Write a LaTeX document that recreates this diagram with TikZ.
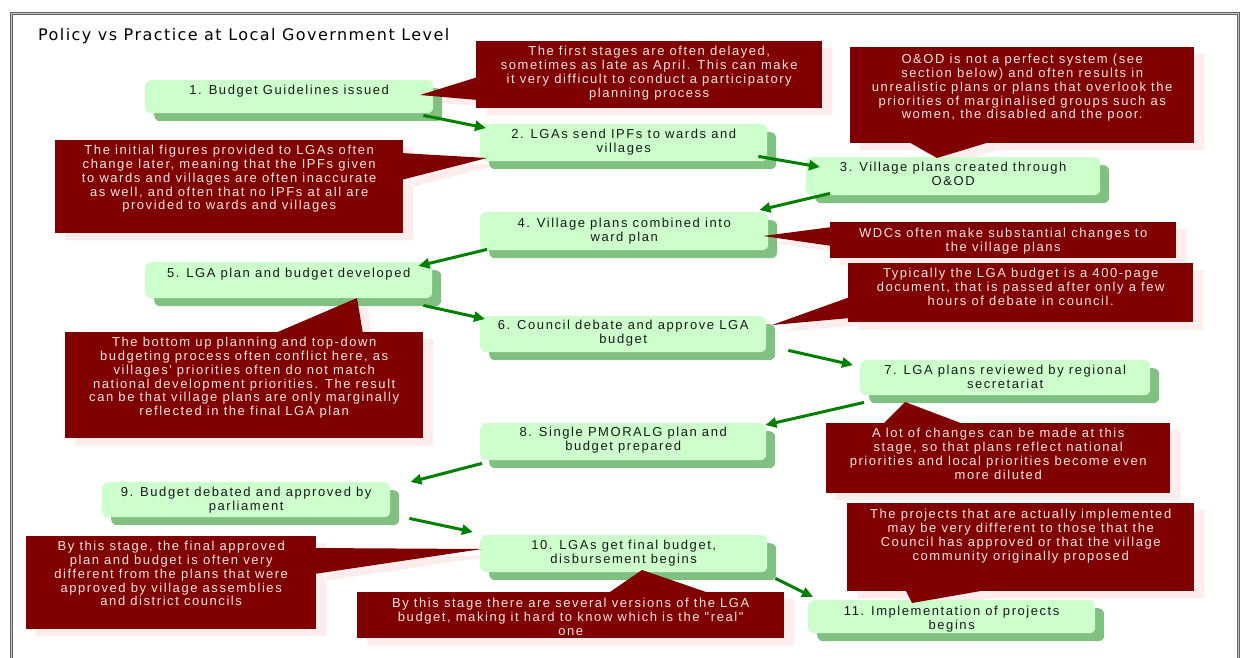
\documentclass[tikz,border=0pt]{standalone}
\usepackage{fontspec}
\setmainfont{Liberation Sans}
\newfontfamily\labelfont[LetterSpace=12]{Liberation Sans}
\newfontfamily\titlefont[LetterSpace=9]{DejaVu Sans}
\usetikzlibrary{arrows.meta,shadows,calc}
\definecolor{boxfill}{HTML}{CCFFCC}
\definecolor{boxshade}{HTML}{80C080}
\definecolor{flowgreen}{HTML}{008000}
\definecolor{noteRed}{HTML}{800000}
\definecolor{noteShade}{HTML}{FFECEC}
\definecolor{noteText}{HTML}{F6E6E6}
\definecolor{frameDark}{HTML}{606060}
\definecolor{frameLight}{HTML}{C8C8C8}
\pgfdeclarelayer{shade}
\pgfdeclarelayer{front}
\pgfsetlayers{shade,main,front}
% red note wedge plus the pale shadow of the whole note
\newcommand\notewedge[4]{%
  \begin{pgfonlayer}{shade}
    \fill[noteShade, transform canvas={shift={(10pt,-7pt)}}]
      (#1.north west) rectangle (#1.south east) (#2) -- (#3) -- (#4) -- cycle;
  \end{pgfonlayer}
  \begin{pgfonlayer}{front}
    \fill[noteRed] (#2) -- (#3) -- (#4) -- cycle;
  \end{pgfonlayer}}
\begin{document}
\begin{tikzpicture}[x=1pt,y=-1pt,
  stage/.style={anchor=north west, rounded corners=6pt, fill=boxfill, inner sep=0pt,
    drop shadow={shadow xshift=9pt, shadow yshift=-8pt, fill=boxshade, opacity=1}},
  stagetext/.style={anchor=north, inner sep=0pt, align=center,
    font=\labelfont\fontsize{13}{14}\selectfont, text=black!90},
  note/.style={anchor=north west, fill=noteRed, inner sep=0pt},
  notetext/.style={anchor=north, inner sep=0pt, align=center,
    font=\labelfont\fontsize{13}{13.8}\selectfont, text=noteText},
  flow/.style={draw=flowgreen, line width=3pt, -{Triangle[length=11pt,width=10pt]}},
]
\useasboundingbox (0,0) rectangle (1241,657);

% frame and title
\draw[frameDark, line width=0.9pt, double=frameLight, double distance=1.2pt]
  (11.5,680) -- (11.5,13.5) -- (1238.5,13.5) -- (1238.5,680);
\node[anchor=base west, inner sep=0pt, font=\titlefont\fontsize{16}{18}\selectfont] (title)
  at (38,40) {Policy vs Practice at Local Government Level};

% process stages
\node[stage, minimum width=288pt, minimum height=33pt] (s1) at (145,80) {};
\node[stage, minimum width=287pt, minimum height=37pt] (s2) at (480,124) {};
\node[stage, minimum width=294pt, minimum height=38pt] (s3) at (806,157) {};
\node[stage, minimum width=288pt, minimum height=38pt] (s4) at (480,212) {};
\node[stage, minimum width=287pt, minimum height=36pt] (s5) at (145,262) {};
\node[stage, minimum width=286pt, minimum height=36pt] (s6) at (480,316) {};
\node[stage, minimum width=290pt, minimum height=35pt] (s7) at (860,360) {};
\node[stage, minimum width=286pt, minimum height=37pt] (s8) at (480,423) {};
\node[stage, minimum width=288pt, minimum height=35pt] (s9) at (102,482) {};
\node[stage, minimum width=287pt, minimum height=37pt] (s10) at (480,535) {};
\node[stage, minimum width=287pt, minimum height=33pt] (s11) at (808,600) {};

\node[stagetext] (s1t) at ([yshift=-5pt]s1.north) {1. Budget Guidelines issued};
\node[stagetext] (s2t) at ([yshift=-5pt]s2.north) {2. LGAs send IPFs to wards and\\villages};
\node[stagetext] (s3t) at ([yshift=-5pt]s3.north) {3. Village plans created through\\O\&OD};
\node[stagetext] (s4t) at ([yshift=-6pt]s4.north) {4. Village plans combined into\\ward plan};
\node[stagetext] (s5t) at ([yshift=-6pt]s5.north) {5. LGA plan and budget developed};
\node[stagetext] (s6t) at ([yshift=-4pt]s6.north) {6. Council debate and approve LGA\\budget};
\node[stagetext] (s7t) at ([yshift=-5pt]s7.north) {7. LGA plans reviewed by regional\\secretariat};
\node[stagetext] (s8t) at ([yshift=-4pt]s8.north) {8. Single PMORALG plan and\\budget prepared};
\node[stagetext] (s9t) at ([yshift=-5pt]s9.north) {9. Budget debated and approved by\\parliament};
\node[stagetext] (s10t) at ([yshift=-5pt]s10.north) {10. LGAs get final budget,\\disbursement begins};
\node[stagetext] (s11t) at ([yshift=-6pt]s11.north) {11. Implementation of projects\\begins};

% flow between stages
\draw[flow] ($(s1.south east)+(-10,2)$) -- ($(s2.north west)+(6,4)$);
\draw[flow] ($(s2.south east)+(-9,-5)$) -- ($(s3.north west)+(14,10)$);
\draw[flow] ($(s3.south west)+(24,-2)$) -- ($(s4.north east)+(-9,-2)$);
\draw[flow] ($(s4.south west)+(7,-1)$) -- ($(s5.north east)+(-14,4)$);
\draw[flow] ($(s5.south east)+(-9,7)$) -- ($(s6.north west)+(5,3)$);
\draw[flow] ($(s6.south east)+(22,-2)$) -- ($(s7.north west)+(-7,5)$);
\draw[flow] ($(s7.south west)+(4,7)$) -- ($(s8.north east)+(-1,2)$);
\draw[flow] ($(s8.south west)+(2,3)$) -- ($(s9.north east)+(20,0)$);
\draw[flow] ($(s9.south east)+(19,1)$) -- ($(s10.north west)+(-7,-3)$);
\draw[flow] ($(s10.south east)+(8,6)$) -- ($(s11.north west)+(5,-3)$);

% notes
\begin{pgfonlayer}{front}
\node[note, minimum width=346pt, minimum height=67pt] (nA) at (476,41) {};
\node[note, minimum width=344pt, minimum height=96pt] (nB) at (850,47) {};
\node[note, minimum width=348pt, minimum height=93pt] (nC) at (55,140) {};
\node[note, minimum width=346pt, minimum height=36pt] (nD) at (830,222) {};
\node[note, minimum width=345pt, minimum height=59pt] (nE) at (848,263) {};
\node[note, minimum width=358pt, minimum height=106pt] (nF) at (65,332) {};
\node[note, minimum width=344pt, minimum height=70pt] (nG) at (826,423) {};
\node[note, minimum width=290pt, minimum height=93pt] (nH) at (26,536) {};
\node[note, minimum width=427pt, minimum height=46pt] (nI) at (357,592) {};
\node[note, minimum width=347pt, minimum height=88pt] (nJ) at (847,503) {};

\node[notetext] (nAt) at ([yshift=-5pt]nA.north) {The first stages are often delayed,\\sometimes as late as April. This can make\\it very difficult to conduct a participatory\\planning process};
\node[notetext] (nBt) at ([yshift=-7pt]nB.north) {O\&OD is not a perfect system (see\\section below) and often results in\\unrealistic plans or plans that overlook the\\priorities of marginalised groups such as\\women, the disabled and the poor.};
\node[notetext] (nCt) at ([yshift=-5pt]nC.north) {The initial figures provided to LGAs often\\change later, meaning that the IPFs given\\to wards and villages are often inaccurate\\as well, and often that no IPFs at all are\\provided to wards and villages};
\node[notetext] (nDt) at ([yshift=-6pt]nD.north) {WDCs often make substantial changes to\\the village plans};
\node[notetext] (nEt) at ([yshift=-5pt]nE.north) {Typically the LGA budget is a 400-page\\document, that is passed after only a few\\hours of debate in council.};
\node[notetext] (nFt) at ([yshift=-5pt]nF.north) {The bottom up planning and top-down\\budgeting process often conflict here, as\\villages' priorities often do not match\\national development priorities. The result\\can be that village plans are only marginally\\reflected in the final LGA plan};
\node[notetext] (nGt) at ([yshift=-5pt]nG.north) {A lot of changes can be made at this\\stage, so that plans reflect national\\priorities and local priorities become even\\more diluted};
\node[notetext] (nHt) at ([yshift=-5pt]nH.north) {By this stage, the final approved\\plan and budget is often very\\different from the plans that were\\approved by village assemblies\\and district councils};
\node[notetext] (nIt) at ([yshift=-6pt]nI.north) {By this stage there are several versions of the LGA\\budget, making it hard to know which is the "real"\\one};
\node[notetext] (nJt) at ([yshift=-6pt]nJ.north) {The projects that are actually implemented\\may be very different to those that the\\Council has approved or that the village\\community originally proposed};
\end{pgfonlayer}

% note pointers
\coordinate (tA) at (420,95);  \coordinate (aA) at (478,77);  \coordinate (bA) at (478,100);
\coordinate (tB) at (937,158); \coordinate (aB) at (907,141); \coordinate (bB) at (993,141);
\coordinate (tC) at (487,158); \coordinate (aC) at (401,153); \coordinate (bC) at (401,180);
\coordinate (tD) at (763,236); \coordinate (aD) at (832,227); \coordinate (bD) at (832,246);
\coordinate (tE) at (772,325); \coordinate (aE) at (850,297); \coordinate (bE) at (850,318);
\coordinate (tF) at (357,298); \coordinate (aF) at (273,334); \coordinate (bF) at (363,334);
\coordinate (tG) at (905,402); \coordinate (aG) at (882,425); \coordinate (bG) at (966,425);
\coordinate (tH) at (482,549); \coordinate (aH) at (314,548); \coordinate (bH) at (314,574);
\coordinate (tI) at (642,570); \coordinate (aI) at (607,594); \coordinate (bI) at (712,594);
\coordinate (tJ) at (912,603); \coordinate (aJ) at (905,589); \coordinate (bJ) at (992,589);
\notewedge{nA}{aA}{tA}{bA}
\notewedge{nB}{aB}{tB}{bB}
\notewedge{nC}{aC}{tC}{bC}
\notewedge{nD}{aD}{tD}{bD}
\notewedge{nE}{aE}{tE}{bE}
\notewedge{nF}{aF}{tF}{bF}
\notewedge{nG}{aG}{tG}{bG}
\notewedge{nH}{aH}{tH}{bH}
\notewedge{nI}{aI}{tI}{bI}
\notewedge{nJ}{aJ}{tJ}{bJ}
\end{tikzpicture}
\end{document}
